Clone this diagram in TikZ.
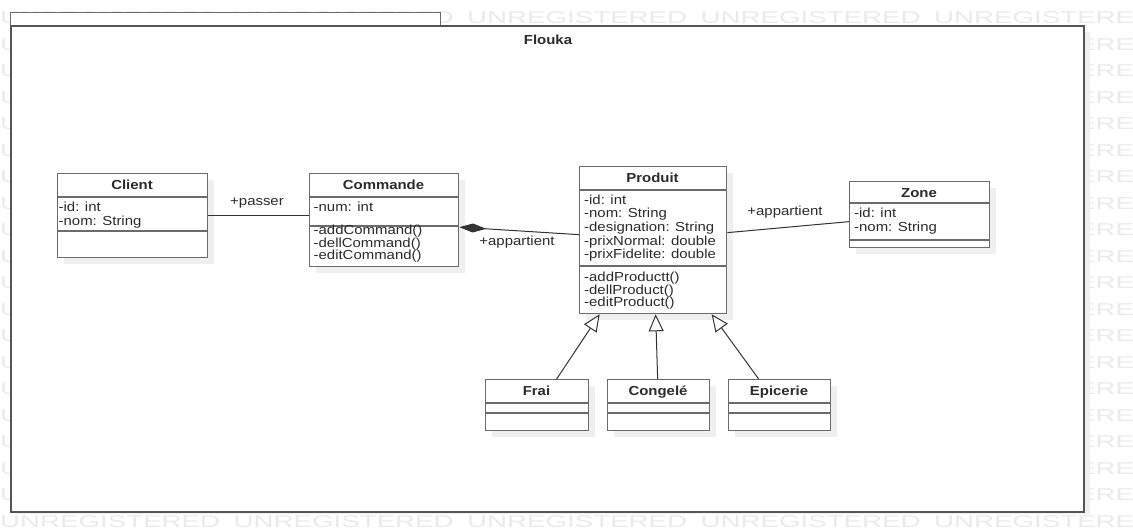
\documentclass[tikz,border=0pt]{standalone}
\usepackage{fontspec}
\setmainfont{Liberation Sans}[FakeStretch=1.14]
\usetikzlibrary{arrows.meta}

\definecolor{boxc}{HTML}{6B6B6B}
\definecolor{pkgc}{HTML}{555555}
\definecolor{txtc}{HTML}{2B2B2B}
\definecolor{linec}{HTML}{333333}
\definecolor{shadowc}{HTML}{EFEFEF}
\definecolor{wmc}{HTML}{EAEAEA}

\tikzset{
  cls/.style={draw=boxc, line width=1.3pt, fill=white, inner sep=0pt, anchor=north west},
  divider/.style={draw=boxc, line width=1.3pt},
  pkgbox/.style={draw=pkgc, line width=1.8pt, fill=white, inner sep=0pt, anchor=north west},
  tabbox/.style={draw=boxc, line width=1.3pt, fill=white, inner sep=0pt, anchor=north west},
  txt/.style={anchor=base west, inner sep=0pt, text=txtc, font=\fontsize{13.1}{13.7}\selectfont},
  title/.style={anchor=base, inner sep=0pt, text=txtc, font=\fontsize{13.1}{13.7}\selectfont\bfseries},
  lbl/.style={inner sep=0pt, text=txtc, font=\fontsize{13.1}{13.7}\selectfont},
  conn/.style={draw=linec, line width=1pt},
  wm/.style={anchor=west, inner sep=0pt, text=wmc, font=\fontsize{16}{16}\selectfont},
}

% class box: name, left, top, right, bottom, first divider, second divider, title
\newcommand{\umlclass}[8]{%
  \fill[shadowc] (#2+7,#3+7) rectangle (#4+7,#5+7);
  \node[cls, minimum width={#4pt-#2pt}, minimum height={#5pt-#3pt}] (#1) at (#2,#3) {};
  \draw[divider] (#2,#6) -- (#4,#6);
  \draw[divider] (#2,#7) -- (#4,#7);
  \node[title] (#1-title) at ({(#2+#4)/2},#3+16.5) {#8};
}
% member lines: prefix, x, first baseline, line spacing, list
\newcommand{\umllines}[5]{%
  \foreach \t [count=\i] in {#5}
    \node[txt] (#1\i) at (#2,{#3+#4*(\i-1)}) {\t};
}

\begin{document}
\begin{tikzpicture}[x=1pt,y=-1pt]
\useasboundingbox (0,0) rectangle (1133,529);

% tiled background marks
\begin{scope}
  \clip (0,0) rectangle (1133,529);
  \foreach \r in {0,...,19}
    \foreach \c in {0,...,4}
      \node[wm] (wm-\r-\c) at (233.5*\c,18+26.5*\r) {\resizebox{220pt}{12pt}{UNREGISTERED}};
\end{scope}

% package frame
\fill[shadowc] (17,32) rectangle (1090,514);
\node[tabbox, minimum width=430pt, minimum height=13pt] (tab) at (10,12) {};
\node[pkgbox, minimum width=1073pt, minimum height=486pt] (pkg) at (10,25) {};
\node[title] (flouka) at (548,45) {Flouka};

% classes
\umlclass{client}{57}{173}{207}{257}{197}{231}{Client}
\umllines{client-a}{58.5}{211.6}{14}{-id: int, -nom: String}

\umlclass{commande}{309}{173}{458}{266}{197}{226}{Commande}
\umllines{commande-a}{313.5}{211.6}{14}{-num: int}
\umllines{commande-m}{313.5}{234.6}{12.5}{-addCommand(), -dellCommand(), -editCommand()}

\umlclass{produit}{579}{166}{726}{313}{190}{266}{Produit}
\umllines{produit-a}{584}{204.1}{13.7}{-id: int, -nom: String, -designation: String, -prixNormal: double, -prixFidelite: double}
\umllines{produit-m}{584}{281.6}{12.5}{-addProductt(), -dellProduct(), -editProduct()}

\umlclass{zone}{849}{181}{989}{247}{203}{240}{Zone}
\umllines{zone-a}{854}{217.6}{14}{-id: int, -nom: String}

\umlclass{frai}{485}{379}{588}{430}{403}{413}{Frai}
\umlclass{congele}{607}{379}{709}{430}{403}{413}{Congelé}
\umlclass{epicerie}{728}{379}{830}{430}{403}{413}{Epicerie}

% associations
\draw[conn] (client.east) -- (client.east -| commande.west);
\node[lbl] (l-passer) at (257,203) {+passer};

\draw[conn, {Diamond[length=27pt,width=9pt,fill=linec]}-] ([yshift=-7pt]commande.east) -- ([yshift=5.5pt]produit.west);
\node[lbl] (l-app1) at (517,242) {+appartient};

\draw[conn] ([yshift=7.5pt]produit.east) -- ([yshift=-7pt]zone.west);
\node[lbl] (l-app2) at (785,212) {+appartient};

% generalizations
\tikzset{gen/.style={conn, -{Triangle[open,length=17pt,width=15pt,fill=white]}}}
\draw[gen] ([xshift=19.5pt]frai.north) -- ([xshift=-53.5pt]produit.south);
\draw[gen] ([xshift=-1pt]congele.north) -- ([xshift=2.5pt]produit.south);
\draw[gen] ([xshift=-21pt]epicerie.north) -- ([xshift=58.5pt]produit.south);
\end{tikzpicture}
\end{document}
